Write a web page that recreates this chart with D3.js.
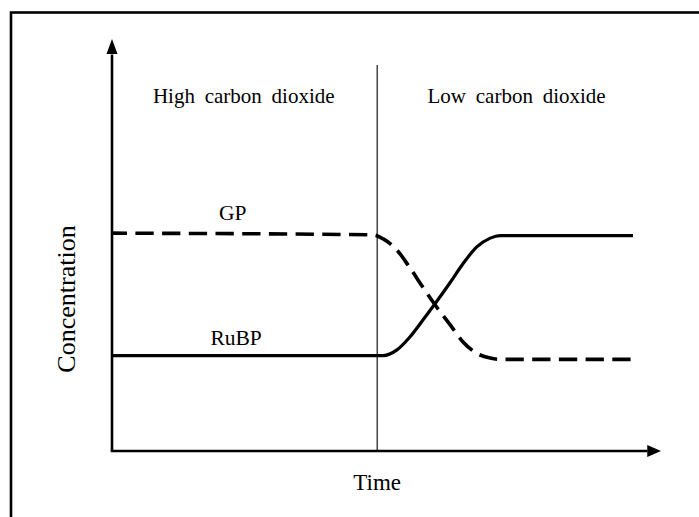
<!DOCTYPE html>
<html>
<head>
<meta charset="utf-8">
<script src="https://cdn.jsdelivr.net/npm/d3@7"></script>
<style>
  html, body { margin: 0; padding: 0; background: #fff; }
  svg { display: block; }
  text { font-family: "Liberation Serif", "Times New Roman", serif; fill: #000; }
</style>
</head>
<body>
<svg id="chart" width="699" height="517"></svg>
<script>
// ---- Data (time in arbitrary units 0..100, concentration in arbitrary units 0..100) ----
const regionLabels = ["High carbon dioxide", "Low carbon dioxide"];
const regionCenters = [24, 73.7];        // time positions of the region labels
const switchTime = 48.3;                  // time when CO2 is lowered
const switchTop = 93.9;                   // top of divider (concentration units)

const rubpTime = [0, 49.4, 51.9, 54.3, 56.6, 59.1, 61.6, 63.9, 66.4, 68.9, 70.7, 94.9];
const rubpConc = [23.2, 23.2, 24.6, 27.8, 31.8, 36.3, 41.0, 45.5, 49.6, 51.8, 52.4, 52.4];

const gpTime = [0, 47.5, 49.4, 51.9, 54.3, 56.6, 59.1, 61.6, 63.9, 66.4, 68.9, 70.7, 94.9];
const gpConc = [53.0, 52.6, 51.6, 48.9, 44.5, 39.9, 35.1, 30.7, 26.6, 23.8, 22.6, 22.3, 22.3];

const seriesLabels = ["GP", "RuBP"];
const seriesLabelTime = [22.0, 22.6];
const seriesLabelConc = [56.2, 25.8];

const xTitle = "Time";
const yTitle = "Concentration";

// ---- Drawing ----
const svg = d3.select("#chart");

const x = d3.scaleLinear().domain([0, 100]).range([112, 661]);
const y = d3.scaleLinear().domain([0, 100]).range([451, 40]);

// outer frame (extends past right/bottom edges)
svg.append("rect")
  .attr("x", 11).attr("y", 12.5)
  .attr("width", 720).attr("height", 540)
  .attr("fill", "none").attr("stroke", "#000").attr("stroke-width", 2.6);

// axes
svg.append("line")
  .attr("x1", x(0)).attr("x2", x(0))
  .attr("y1", y(0)).attr("y2", y(96.5))
  .attr("stroke", "#000").attr("stroke-width", 2.6);
svg.append("path")
  .attr("d", `M${x(0)},${y(100) - 1} L${x(0) - 5.5},${y(96.6)} L${x(0) + 5.5},${y(96.6)} Z`)
  .attr("fill", "#000");

svg.append("line")
  .attr("x1", x(0) - 1.3).attr("x2", x(97.5))
  .attr("y1", y(0)).attr("y2", y(0))
  .attr("stroke", "#000").attr("stroke-width", 2.6);
svg.append("path")
  .attr("d", `M${x(100)},${y(0)} L${x(97.5)},${y(0) - 6} L${x(97.5)},${y(0) + 6} Z`)
  .attr("fill", "#000");

// divider
svg.append("line")
  .attr("x1", x(switchTime)).attr("x2", x(switchTime))
  .attr("y1", y(switchTop)).attr("y2", y(0))
  .attr("stroke", "#000").attr("stroke-width", 1.1);

// region labels
svg.selectAll("text.region").data(regionLabels).join("text")
  .attr("class", "region")
  .attr("x", (d, i) => x(regionCenters[i]))
  .attr("y", 103)
  .attr("text-anchor", "middle")
  .attr("font-size", 21)
  .attr("word-spacing", 4.5)
  .text(d => d);

const line = d3.line()
  .x(d => x(d[0]))
  .y(d => y(d[1]))
  .curve(d3.curveMonotoneX);

const rubp = rubpTime.map((t, i) => [t, rubpConc[i]]);
const gp = gpTime.map((t, i) => [t, gpConc[i]]);

svg.append("path")
  .attr("d", line(rubp))
  .attr("fill", "none").attr("stroke", "#000").attr("stroke-width", 3.2);

svg.append("path")
  .attr("d", line(gp))
  .attr("fill", "none").attr("stroke", "#000").attr("stroke-width", 3.6)
  .attr("stroke-dasharray", "18.3 8.4")
  .attr("stroke-dashoffset", 3.3);

// series labels
svg.selectAll("text.series").data(seriesLabels).join("text")
  .attr("class", "series")
  .attr("x", (d, i) => x(seriesLabelTime[i]))
  .attr("y", (d, i) => y(seriesLabelConc[i]))
  .attr("text-anchor", "middle")
  .attr("font-size", 21.5)
  .text(d => d);

// axis titles
svg.append("text")
  .attr("x", x(switchTime))
  .attr("y", 490)
  .attr("text-anchor", "middle")
  .attr("font-size", 23)
  .text(xTitle);

svg.append("text")
  .attr("transform", "translate(75,299) rotate(-90)")
  .attr("text-anchor", "middle")
  .attr("font-size", 26)
  .text(yTitle);
</script>
</body>
</html>
